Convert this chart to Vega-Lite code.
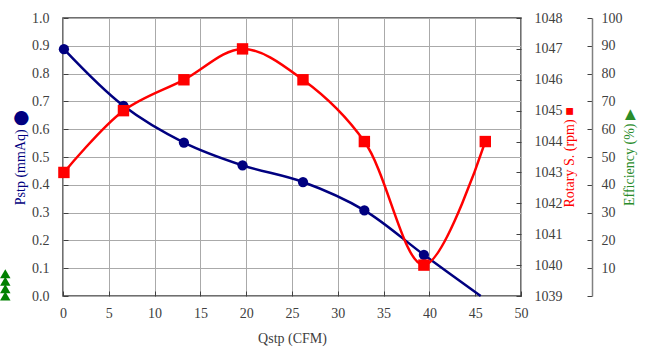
{
  "$schema": "https://vega.github.io/schema/vega-lite/v6.json",
  "width": 458,
  "height": 278,
  "autosize": {"type": "none"},
  "padding": {"left": 63, "top": 18, "right": 126, "bottom": 60},
  "background": "white",
  "config": {
    "font": "Liberation Serif",
    "view": {"stroke": "#404040", "strokeWidth": 1.5},
    "style": {
      "guide-label": {"font": "Liberation Serif", "fontSize": 14},
      "guide-title": {"font": "Liberation Serif", "fontSize": 14}
    },
    "axis": {
      "labelFont": "Liberation Serif",
      "titleFont": "Liberation Serif",
      "labelFontSize": 14,
      "titleFontSize": 14,
      "titleFontWeight": "normal",
      "labelColor": "#404040",
      "tickColor": "#404040",
      "gridColor": "#aaaaaa",
      "gridWidth": 1,
      "tickWidth": 1,
      "labelFlush": false,
      "labelOverlap": false
    }
  },
  "datasets": {
    "pstp": [
      {"Q": 0.1, "Pstp": 0.888},
      {"Q": 6.6, "Pstp": 0.684},
      {"Q": 13.2, "Pstp": 0.552},
      {"Q": 19.6, "Pstp": 0.470},
      {"Q": 26.2, "Pstp": 0.410},
      {"Q": 32.9, "Pstp": 0.308},
      {"Q": 39.4, "Pstp": 0.148},
      {"Q": 45.6, "Pstp": 0.0}
    ],
    "rpm": [
      {"Q": 0.1, "rpm": 1043},
      {"Q": 6.6, "rpm": 1045},
      {"Q": 13.2, "rpm": 1046},
      {"Q": 19.6, "rpm": 1047},
      {"Q": 26.2, "rpm": 1046},
      {"Q": 32.9, "rpm": 1044},
      {"Q": 39.4, "rpm": 1040},
      {"Q": 46.1, "rpm": 1044}
    ],
    "eff": [
      {"Q": -6.3, "eff": 8},
      {"Q": -6.3, "eff": 5.3},
      {"Q": -6.3, "eff": 2.6},
      {"Q": -6.3, "eff": 0}
    ]
  },
  "encoding": {
    "x": {
      "field": "Q",
      "type": "quantitative",
      "scale": {"domain": [0, 50], "nice": false},
      "axis": {
        "title": "Qstp (CFM)",
        "titleColor": "#404040",
        "titleFont": "Liberation Serif",
        "labelFont": "Liberation Serif",
        "titlePadding": 11,
        "values": [0, 5, 10, 15, 20, 25, 30, 35, 40, 45, 50],
        "tickSize": -5,
        "labelPadding": 15,
        "grid": true,
        "domain": false
      }
    }
  },
  "layer": [
    {
      "data": {"name": "pstp"},
      "encoding": {
        "y": {
          "field": "Pstp",
          "type": "quantitative",
          "scale": {"domain": [0, 1], "nice": false},
          "axis": {
            "orient": "left",
            "title": "Pstp (mmAq) ⬤",
            "titleColor": "#000080",
            "titleFont": "Liberation Serif",
            "labelFont": "Liberation Serif",
            "titlePadding": 4,
            "values": [0, 0.1, 0.2, 0.3, 0.4, 0.5, 0.6, 0.7, 0.8, 0.9, 1.0],
            "format": ".1f",
            "tickSize": -5,
            "labelPadding": 19,
            "grid": true,
            "domain": false
          }
        }
      },
      "layer": [
        {"mark": {"type": "line", "color": "#000080", "strokeWidth": 2.5, "interpolate": "catmull-rom"}},
        {
          "transform": [{"filter": "datum.Pstp > 0"}],
          "mark": {"type": "point", "shape": "circle", "filled": true, "opacity": 1, "color": "#000080", "size": 105}
        }
      ]
    },
    {
      "data": {"name": "rpm"},
      "encoding": {
        "y": {
          "field": "rpm",
          "type": "quantitative",
          "scale": {"domain": [1039, 1048], "nice": false, "zero": false},
          "axis": {
            "orient": "right",
            "title": "Rotary S. (rpm) ■",
            "titleColor": "#ff0000",
            "titleFont": "Liberation Serif",
            "labelFont": "Liberation Serif",
            "titleAngle": 270,
            "titlePadding": 14,
            "values": [1039, 1040, 1041, 1042, 1043, 1044, 1045, 1046, 1047, 1048],
            "format": "d",
            "tickSize": -5,
            "labelPadding": 18,
            "grid": false,
            "domain": false
          }
        }
      },
      "layer": [
        {"mark": {"type": "line", "color": "#ff0000", "strokeWidth": 2.5, "interpolate": "catmull-rom"}},
        {"mark": {"type": "point", "shape": "square", "filled": true, "opacity": 1, "color": "#ff0000", "size": 130}}
      ]
    },
    {
      "data": {"name": "eff"},
      "mark": {"type": "point", "shape": "triangle-up", "filled": true, "opacity": 1, "color": "#008000", "size": 110},
      "encoding": {
        "y": {
          "field": "eff",
          "type": "quantitative",
          "scale": {"domain": [0, 100], "nice": false},
          "axis": {
            "orient": "right",
            "offset": 71,
            "title": "Efficiency (%) ▶",
            "titleColor": "#2a8c2a",
            "titleFont": "Liberation Serif",
            "labelFont": "Liberation Serif",
            "titleAngle": 270,
            "titlePadding": 14,
            "values": [0, 10, 20, 30, 40, 50, 60, 70, 80, 90, 100],
            "labelExpr": "datum.value == 0 ? '' : datum.label",
            "tickSize": -5,
            "labelPadding": 14,
            "grid": false,
            "domain": true,
            "domainColor": "#808080",
            "domainWidth": 1.5
          }
        }
      }
    }
  ],
  "resolve": {"scale": {"y": "independent"}}
}
